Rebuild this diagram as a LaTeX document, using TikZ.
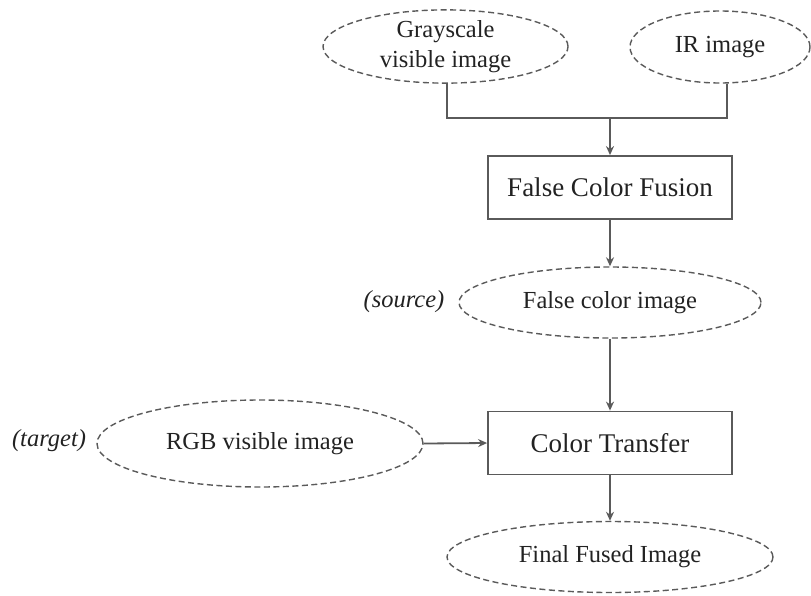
\documentclass[tikz,border=0pt]{standalone}
\usepackage{fontspec}
\setmainfont{Liberation Serif}
\usetikzlibrary{shapes.geometric,arrows.meta}
\definecolor{linegray}{HTML}{5A5A5A}
\definecolor{textgray}{HTML}{222222}
\tikzset{
  dashell/.style={ellipse, draw=linegray, line width=1.4pt, dash pattern=on 6pt off 3.5pt,
    inner sep=0pt, text=textgray, font=\fontsize{24.5}{29.5}\selectfont, align=center},
  procbox/.style={rectangle, draw=linegray, line width=1.8pt, inner sep=0pt,
    minimum width=244pt, minimum height=63pt, text=textgray, font=\fontsize{27}{32}\selectfont},
  conn/.style={draw=linegray, line width=1.8pt},
  arr/.style={conn, -{Stealth[length=9pt,width=8pt]}},
  sidelabel/.style={text=textgray, font=\fontsize{24.5}{29.5}\selectfont\itshape, inner sep=0pt}
}
\begin{document}
\begin{tikzpicture}[x=1pt,y=-1pt]
\useasboundingbox (0,0) rectangle (811,595);
\node[dashell, minimum width=245pt, minimum height=73pt] (gray) at (445.5,46.5) {Grayscale\\visible image};
\node[dashell, minimum width=180pt, minimum height=72pt] (ir) at (720,47) {IR image};
\node[procbox] (fcf) at (610,187.5) {False Color Fusion};
\node[dashell, minimum width=302pt, minimum height=71pt] (fci) at (610,302.5) {False color image};
\node[sidelabel] (src) at (404,302) {(source)};
\node[procbox] (ct) at (610,443) {Color Transfer};
\node[dashell, minimum width=326pt, minimum height=87pt] (rgb) at (260,443.5) {RGB visible image};
\node[sidelabel] (tgt) at (49,441) {(target)};
\node[dashell, minimum width=326pt, minimum height=71pt] (fin) at (610,557) {Final Fused Image};
\coordinate (j) at (610,118);
\draw[conn] ([xshift=1.5pt]gray.south) |- (j);
\draw[conn] ([xshift=7pt]ir.south) |- (j);
\draw[arr] (j) -- (fcf.north);
\draw[arr] (fcf.south) -- (fci.north);
\draw[arr] (fci.south) -- (ct.north);
\draw[arr] (rgb.east) -- (ct.west);
\draw[arr] (ct.south) -- (fin.north);
\end{tikzpicture}
\end{document}
